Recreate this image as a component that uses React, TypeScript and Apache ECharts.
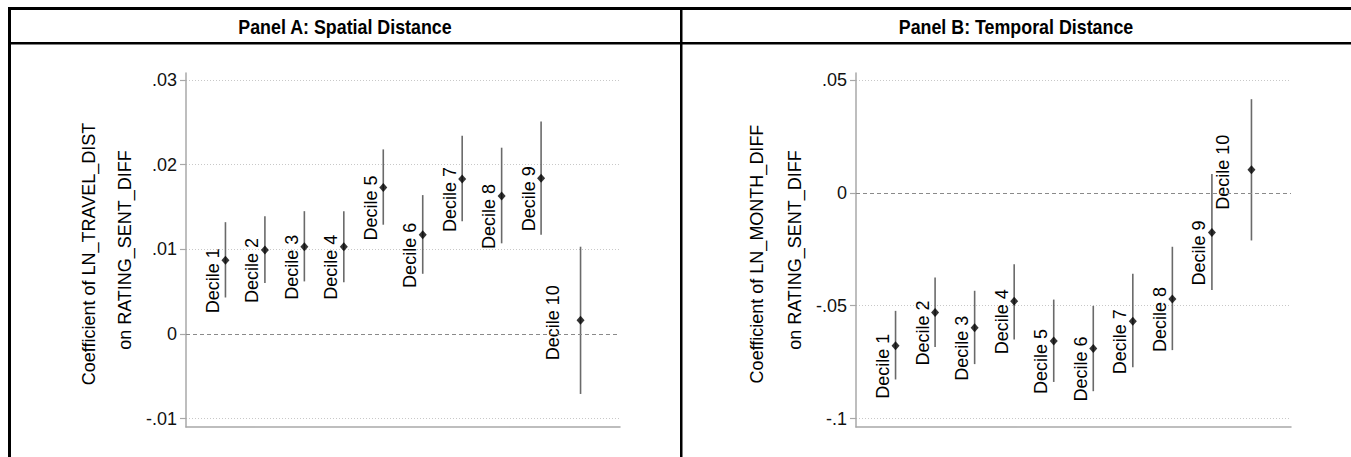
import React, { useEffect, useRef } from "react";
import * as echarts from "echarts";

const deciles = ["Decile 1", "Decile 2", "Decile 3", "Decile 4", "Decile 5", "Decile 6", "Decile 7", "Decile 8", "Decile 9", "Decile 10"];
const positions = [1, 2, 3, 4, 5, 6, 7, 8, 9, 10];

const spatialCoef = [0.0087, 0.0099, 0.0103, 0.0103, 0.0173, 0.0117, 0.0183, 0.0163, 0.0184, 0.0016];
const spatialLo = [0.0043, 0.0060, 0.0062, 0.0061, 0.0129, 0.0071, 0.0133, 0.0107, 0.0117, -0.0071];
const spatialHi = [0.0132, 0.0139, 0.0145, 0.0145, 0.0218, 0.0164, 0.0234, 0.0220, 0.0251, 0.0103];

const temporalCoef = [-0.0678, -0.0530, -0.0598, -0.0480, -0.0657, -0.0690, -0.0569, -0.0470, -0.0176, 0.0102];
const temporalLo = [-0.0827, -0.0683, -0.0759, -0.0650, -0.0838, -0.0879, -0.0773, -0.0697, -0.0431, -0.0211];
const temporalHi = [-0.0523, -0.0375, -0.0434, -0.0316, -0.0473, -0.0501, -0.0359, -0.0239, 0.0083, 0.0415];

const spatialTicks = [-0.01, 0, 0.01, 0.02, 0.03];
const spatialTickLabels = ["-.01", "0", ".01", ".02", ".03"];
const temporalTicks = [-0.1, -0.05, 0, 0.05];
const temporalTickLabels = ["-.1", "-.05", "0", ".05"];

const panelTitles = ["Panel A: Spatial Distance", "Panel B: Temporal Distance"];
const axisTitlesA = ["Coefficient of LN_TRAVEL_DIST", "on RATING_SENT_DIFF"];
const axisTitlesB = ["Coefficient of LN_MONTH_DIFF", "on RATING_SENT_DIFF"];

const FONT = '"Liberation Sans", Arial, Helvetica, sans-serif';
const FS = 18;

function labelFor(ticks: number[], labels: string[]) {
  return (v: number) => {
    let best = 0;
    for (let i = 0; i < ticks.length; i++) {
      if (Math.abs(ticks[i] - v) < Math.abs(ticks[best] - v)) best = i;
    }
    return labels[best];
  };
}

function splitColors(ticks: number[]) {
  return ticks.map((t) => (Math.abs(t) < 1e-12 ? "rgba(0,0,0,0)" : "#c8c8c8"));
}

export default function App() {
  const ref = useRef<HTMLDivElement>(null);

  useEffect(() => {
    if (!ref.current) return;
    const chart = echarts.init(ref.current, null, { renderer: "svg" });

    const panels = [
      { left: 186, width: 434, ticks: spatialTicks, labels: spatialTickLabels, coef: spatialCoef, lo: spatialLo, hi: spatialHi },
      { left: 856, width: 435, ticks: temporalTicks, labels: temporalTickLabels, coef: temporalCoef, lo: temporalLo, hi: temporalHi },
    ];

    const grid: any[] = [];
    const xAxis: any[] = [];
    const yAxis: any[] = [];
    const series: any[] = [];

    panels.forEach((p, pi) => {
      const dataGrid = pi * 2;
      const frameGrid = pi * 2 + 1;
      grid.push({ left: p.left, top: 80, width: p.width, height: 338.5, containLabel: false });
      grid.push({ left: p.left, top: 73, width: p.width, height: 354, containLabel: false });

      const tmin = p.ticks[0];
      const tmax = p.ticks[p.ticks.length - 1];
      const interval = p.ticks[1] - p.ticks[0];

      xAxis.push({ type: "value", gridIndex: dataGrid, min: 0, max: 11, show: false });
      xAxis.push({
        type: "value", gridIndex: frameGrid, min: 0, max: 1, position: "bottom",
        axisLine: { show: true, lineStyle: { color: "#a8a8a8", width: 1.5 } },
        axisTick: { show: false }, axisLabel: { show: false }, splitLine: { show: false },
      });
      yAxis.push({
        type: "value", gridIndex: dataGrid, min: tmin, max: tmax, interval,
        axisLine: { show: false },
        axisTick: { show: true, length: 6, lineStyle: { color: "#a8a8a8", width: 1.2 } },
        axisLabel: {
          show: true, margin: 9, fontSize: FS, fontFamily: FONT, color: "#111",
          formatter: labelFor(p.ticks, p.labels),
        },
        splitLine: { show: true, lineStyle: { color: splitColors(p.ticks), type: [1, 2], width: 1 } },
      });
      yAxis.push({
        type: "value", gridIndex: frameGrid, min: 0, max: 1,
        axisLine: { show: true, lineStyle: { color: "#a8a8a8", width: 1.5 } },
        axisTick: { show: false }, axisLabel: { show: false }, splitLine: { show: false },
      });

      const ciData = positions.map((x, i) => [x, p.lo[i], p.hi[i], p.coef[i]]);
      series.push({
        type: "custom",
        xAxisIndex: dataGrid,
        yAxisIndex: dataGrid,
        data: ciData,
        silent: true,
        renderItem: (params: any, api: any) => {
          const x = api.value(0);
          const top = api.coord([x, api.value(2)]);
          const bot = api.coord([x, api.value(1)]);
          const pt = api.coord([x, api.value(3)]);
          const label = deciles[params.dataIndex];
          const long = label.length > 8;
          const dx = long ? -28 : -12.5;
          const dy = long ? 2.5 : 20.5;
          return {
            type: "group",
            children: [
              { type: "line", shape: { x1: top[0], y1: top[1], x2: bot[0], y2: bot[1] }, style: { stroke: "#6a6a6a", lineWidth: 1.6 } },
              {
                type: "text", x: pt[0] + dx, y: pt[1] + dy, rotation: Math.PI / 2,
                style: { text: label, fill: "#000", font: `${FS}px ${FONT}`, align: "center", verticalAlign: "middle" },
              },
            ],
          };
        },
        markLine: {
          silent: true, symbol: "none", label: { show: false },
          lineStyle: { color: "#8a8a8a", type: [4, 3], width: 1 },
          data: [{ yAxis: 0 }],
        },
        z: 2,
      });
      series.push({
        type: "scatter",
        xAxisIndex: dataGrid,
        yAxisIndex: dataGrid,
        data: positions.map((x, i) => [x, p.coef[i]]),
        symbol: "diamond",
        symbolSize: [8, 9],
        itemStyle: { color: "#000" },
        silent: true,
        z: 3,
      });
    });

    const headFont = `bold 21px ${FONT}`;
    const graphic: any[] = [
      { type: "rect", shape: { x: 8, y: 7, width: 1343, height: 3 }, style: { fill: "#000" } },
      { type: "rect", shape: { x: 8, y: 42, width: 1343, height: 2.5 }, style: { fill: "#000" } },
      { type: "rect", shape: { x: 8, y: 7, width: 3, height: 450 }, style: { fill: "#000" } },
      { type: "rect", shape: { x: 680, y: 7, width: 2.5, height: 450 }, style: { fill: "#000" } },
      {
        type: "text", x: 345, y: 26, scaleX: 0.85,
        style: { text: panelTitles[0], font: headFont, fill: "#000", align: "center", verticalAlign: "middle" },
      },
      {
        type: "text", x: 1016, y: 26, scaleX: 0.85,
        style: { text: panelTitles[1], font: headFont, fill: "#000", align: "center", verticalAlign: "middle" },
      },
      { type: "text", x: 88.5, y: 254, rotation: Math.PI / 2, style: { text: axisTitlesA[0], font: `${FS}px ${FONT}`, fill: "#000", align: "center", verticalAlign: "middle" } },
      { type: "text", x: 125, y: 250, rotation: Math.PI / 2, style: { text: axisTitlesA[1], font: `${FS}px ${FONT}`, fill: "#000", align: "center", verticalAlign: "middle" } },
      { type: "text", x: 757, y: 254, rotation: Math.PI / 2, style: { text: axisTitlesB[0], font: `${FS}px ${FONT}`, fill: "#000", align: "center", verticalAlign: "middle" } },
      { type: "text", x: 795, y: 250, rotation: Math.PI / 2, style: { text: axisTitlesB[1], font: `${FS}px ${FONT}`, fill: "#000", align: "center", verticalAlign: "middle" } },
    ];

    chart.setOption({
      animation: false,
      backgroundColor: "#fff",
      grid,
      xAxis,
      yAxis,
      series,
      graphic,
    });

    return () => chart.dispose();
  }, []);

  return <div ref={ref} style={{ position: "fixed", left: 0, top: 0, width: 1351, height: 457 }} />;
}
